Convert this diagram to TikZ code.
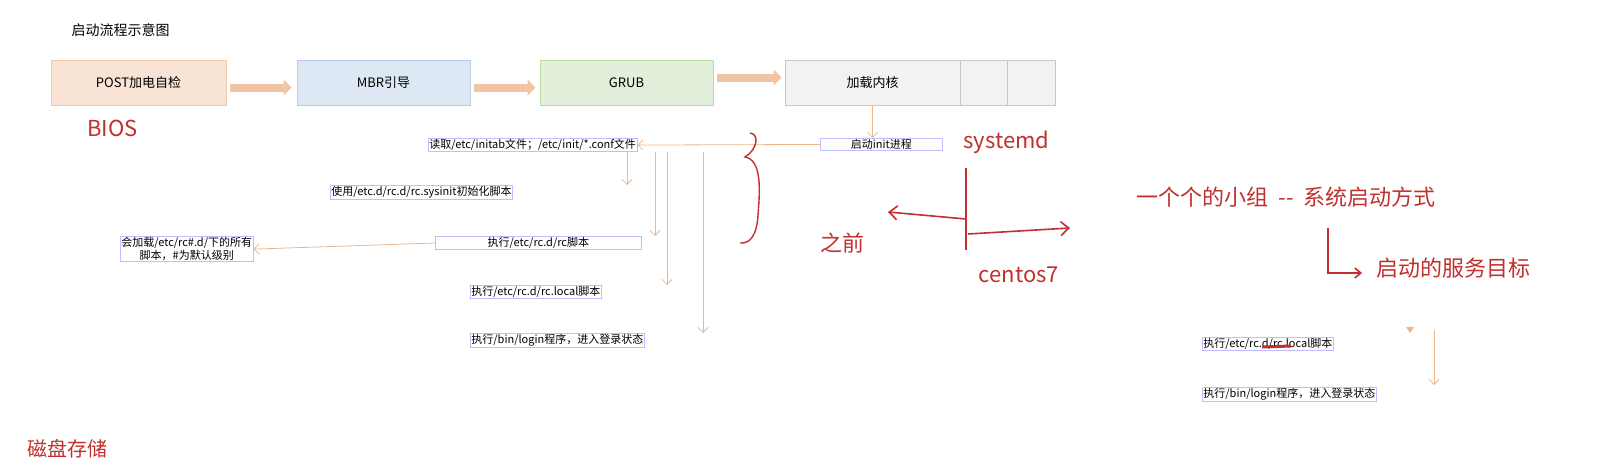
\documentclass[tikz,border=0pt]{standalone}
\usepackage{fontspec}
\setmainfont{Noto Sans CJK SC}
\usetikzlibrary{arrows.meta}
\definecolor{org}{HTML}{EDB58C}
\definecolor{red1}{HTML}{C0302C}
\definecolor{pf}{HTML}{F8E3D5}\definecolor{pd}{HTML}{F2C9AC}
\definecolor{bf}{HTML}{DEE8F4}\definecolor{bd}{HTML}{B8CCE8}
\definecolor{gf}{HTML}{E2EFDA}\definecolor{gd}{HTML}{B8DCA2}
\definecolor{hf}{HTML}{F2F2F2}\definecolor{hd}{HTML}{C8C8C8}
\begin{document}
\begin{tikzpicture}[x=1pt,y=-1pt,
 big/.style={draw,line width=1pt,minimum width=175pt,minimum height=45pt,font=\fontsize{13}{15}\selectfont,inner sep=0pt},
 sm/.style={draw=blue!25,line width=0.8pt,font=\fontsize{11}{13}\selectfont,inner sep=1pt,anchor=north west},
 fat/.style={-{Triangle[length=8pt,width=16pt]},line width=8pt,draw=org!80},
 thin/.style={-{Straight Barb[length=5pt]},draw=org,line width=0.8pt},
 hand/.style={red1,font=\fontsize{22}{24}\selectfont},
 rl/.style={red1,line width=1.6pt}]
\useasboundingbox (0,0) rectangle (1612,474);
\node[anchor=west,font=\fontsize{14}{16}\selectfont] (title) at (68,30) {启动流程示意图};
\node[big,fill=pf,draw=pd] (post) at (138.5,82.5) {POST加电自检};
\node[big,fill=bf,draw=bd,minimum width=173pt] (mbr) at (383.5,82.5) {MBR引导};
\node[big,fill=gf,draw=gd,minimum width=173pt] (grub) at (626.5,82.5) {GRUB};
\node[big,fill=hf,draw=hd] (kern) at (872.5,82.5) {加载内核};
\node[big,fill=hf,draw=hd,minimum width=47pt] (k2) at (983.5,82.5) {};
\node[big,fill=hf,draw=hd,minimum width=48pt] (k3) at (1031,82.5) {};
\draw[fat] (post.east)++(3,5) -- ++(62,0);
\draw[fat] (mbr.east)++(3,5) -- ++(62,0);
\draw[fat] (grub.east)++(3,-5) -- ++(65,0);
\node[hand,anchor=west] (bios) at (84,128) {BIOS};
\node[sm] (read) at (428,138) {读取/etc/initab文件；/etc/init/*.conf文件};
\node[sm] (init) at (820,138) {\makebox[120pt]{启动init进程}};
\node[sm] (use) at (330,185) {使用/etc.d/rc.d/rc.sysinit初始化脚本};
\node[sm] (rc) at (435,236) {\makebox[204pt]{执行/etc/rc.d/rc脚本}};
\node[sm,align=center] (all) at (120,236) {会加载/etc/rc\#.d/下的所有\\脚本，\#为默认级别};
\node[sm] (loc) at (470,285) {执行/etc/rc.d/rc.local脚本};
\node[sm] (log) at (470,333) {执行/bin/login程序，进入登录状态};
\draw[thin] (kern.south) -- (init.north-|kern.south);
\draw[thin] (init.west) -- (read.east);
\draw[thin] (read.south-|627,0) -- (use.north-|627,0);
\draw[thin] (read.south-|655,0) -- (rc.north-|655,0);
\draw[thin] (read.south-|667,0) -- (loc.north-|667,0);
\draw[thin] (read.south-|703,0) -- (log.north-|703,0);
\draw[thin] (rc.west) -- (all.east);
\draw[rl,line width=1.4pt] (750,133) .. controls (760,134) and (757,150) .. (745,157) .. controls (762,160) and (760,190) .. (758,215) .. controls (757,235) and (750,244) .. (740,243);
\node[hand,anchor=west] (sysd) at (960,142) {systemd};
\coordinate (vt) at (966,168); \coordinate (vb) at (966,250);
\draw[rl] (vt) -- (vb);
\coordinate (la) at (888,212); \coordinate (ra) at (1070,228);
\draw[rl,-{Straight Barb[length=8pt,width=14pt]}] (966,219) -- (la);
\draw[rl,-{Straight Barb[length=8pt,width=14pt]}] (968,234) -- (ra);
\node[hand] (before) at (842,243) {之前};
\node[hand] (cent) at (1019,275) {centos7};
\node[hand,anchor=west] (grp) at (1133,197) {一个个的小组\ \ -{}- \ 系统启动方式};
\coordinate (l1) at (1328,228); \coordinate (l3) at (1362,273);
\draw[rl,-{Straight Barb[length=6pt,width=10pt]}] (l1) -- (1328,273) -- (l3);
\node[hand,anchor=west] (tgt) at (1373,268) {启动的服务目标};
\node[sm] (loc2) at (1202,337) {执行/etc/rc.d/rc.local脚本};
\draw[red1,line width=3pt] (1262,347) -- (1291,346);
\node[sm] (log2) at (1202,387) {执行/bin/login程序，进入登录状态};
\coordinate (a0) at (1434,330);
\draw[thin] (a0) -- (1434,385);
\fill[org] (1406,327) -- (1414,327) -- (1410,333) -- cycle;
\node[red1,anchor=west,font=\fontsize{20}{22}\selectfont] (disk) at (24,449) {磁盘存储};
\end{tikzpicture}
\end{document}
